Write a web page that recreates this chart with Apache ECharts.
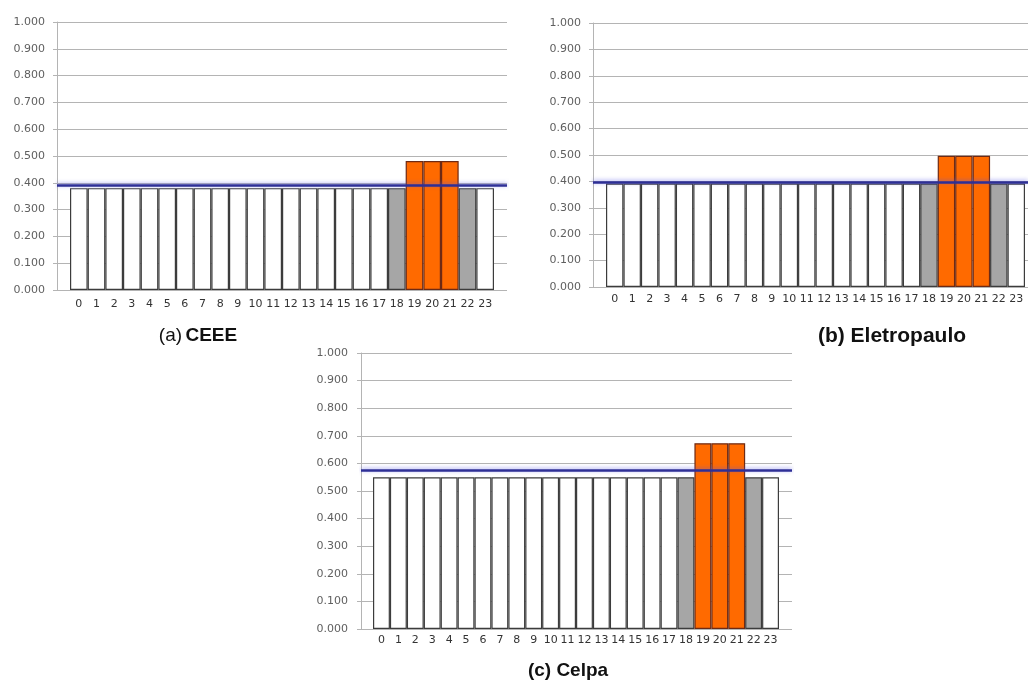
<!DOCTYPE html>
<html>
<head>
<meta charset="utf-8">
<script src="https://cdn.jsdelivr.net/npm/echarts@6/dist/echarts.min.js"></script>
<style>
html,body{margin:0;padding:0;background:#fff;}
#c{width:1028px;height:684px;}
</style>
</head>
<body>
<div id="c"></div>
<script>
// ---- data ----
var hours = ['0','1','2','3','4','5','6','7','8','9','10','11','12','13','14','15','16','17','18','19','20','21','22','23'];
var yTicks = [0, 0.1, 0.2, 0.3, 0.4, 0.5, 0.6, 0.7, 0.8, 0.9, 1.0];
// bar type per hour: 0 = off-peak (white), 1 = intermediate (grey), 2 = peak (orange)
var hourType = [0,0,0,0,0,0,0,0,0,0,0,0,0,0,0,0,0,0,1,2,2,2,1,0];
var ceeeValues = [0.380,0.380,0.380,0.380,0.380,0.380,0.380,0.380,0.380,0.380,0.380,0.380,0.380,0.380,0.380,0.380,0.380,0.380,0.380,0.481,0.481,0.481,0.380,0.380];
var ceeeFlat = 0.390;
var eletropauloValues = [0.392,0.392,0.392,0.392,0.392,0.392,0.392,0.392,0.392,0.392,0.392,0.392,0.392,0.392,0.392,0.392,0.392,0.392,0.392,0.497,0.497,0.497,0.392,0.392];
var eletropauloFlat = 0.396;
var celpaValues = [0.550,0.550,0.550,0.550,0.550,0.550,0.550,0.550,0.550,0.550,0.550,0.550,0.550,0.550,0.550,0.550,0.550,0.550,0.550,0.673,0.673,0.673,0.550,0.550];
var celpaFlat = 0.574;

// ---- styles ----
var fills = ['#ffffff', '#a6a6a6', '#ff6a00'];
var borders = ['#3c3c3c', '#3c3c3c', '#6e2a14'];
var gridColor = '#b4b4b4';

var panels = [
  {values: ceeeValues, flat: ceeeFlat, bg: {left: 57, top: 22, width: 450, height: 268}, bars: {left: 70, width: 424}, yMargin: 12, xMargin: 9},
  {values: eletropauloValues, flat: eletropauloFlat, bg: {left: 593, top: 23, width: 435, height: 264}, bars: {left: 606, width: 419}, yMargin: 12, xMargin: 7},
  {values: celpaValues, flat: celpaFlat, bg: {left: 361, top: 353, width: 431, height: 276}, bars: {left: 373, width: 406}, yMargin: 13, xMargin: 6}
];

var grid = [], xAxis = [], yAxis = [], series = [];
panels.forEach(function (p, i) {
  var g0 = i * 2, g1 = i * 2 + 1;
  grid.push({left: p.bg.left, top: p.bg.top, width: p.bg.width, height: p.bg.height, containLabel: false});
  grid.push({left: p.bars.left, top: p.bg.top, width: p.bars.width, height: p.bg.height, containLabel: false});
  // background grid axes
  xAxis.push({type: 'value', gridIndex: g0, min: 0, max: 1, show: false});
  yAxis.push({
    type: 'value', gridIndex: g0, min: yTicks[0], max: yTicks[yTicks.length - 1], interval: yTicks[1] - yTicks[0],
    axisLine: {show: true, lineStyle: {color: gridColor, width: 1}},
    axisTick: {show: true, length: 4, lineStyle: {color: gridColor}},
    splitLine: {show: true, lineStyle: {color: gridColor, width: 1}},
    axisLabel: {margin: p.yMargin, color: '#5f5f5f', fontFamily: 'DejaVu Sans', fontSize: 11,
      formatter: function (v) { return v.toFixed(3); }}
  });
  // bar axes
  xAxis.push({
    type: 'category', gridIndex: g1, data: hours,
    axisLine: {show: false}, axisTick: {show: false}, splitLine: {show: false},
    axisLabel: {margin: p.xMargin, color: '#333333', fontFamily: 'DejaVu Sans', fontSize: 11, interval: 0}
  });
  yAxis.push({type: 'value', gridIndex: g1, min: 0, max: 1, show: false, splitLine: {show: false}});

  series.push({
    type: 'bar', xAxisIndex: g1, yAxisIndex: g1, barCategoryGap: '0%', z: 3,
    data: p.values.map(function (v, k) {
      return {value: v, itemStyle: {color: fills[hourType[k]], borderColor: borders[hourType[k]], borderWidth: 1.2}};
    }),
    animation: false, silent: true
  });
  series.push({
    type: 'line', xAxisIndex: g0, yAxisIndex: g0, z: 5, symbol: 'none',
    data: [[0, p.flat], [1, p.flat]],
    lineStyle: {color: '#2e2f96', width: 2.5, shadowColor: 'rgba(90,90,230,0.55)', shadowBlur: 4, shadowOffsetY: -1},
    animation: false, silent: true
  });
});

var chart = echarts.init(document.getElementById('c'), null, {renderer: 'canvas'});
chart.setOption({
  backgroundColor: '#ffffff',
  animation: false,
  grid: grid, xAxis: xAxis, yAxis: yAxis, series: series,
  graphic: [
    {type: 'text', x: 198, y: 336, z: 100, style: {
      text: '{n|(a)} {b|CEEE}', textAlign: 'center', textVerticalAlign: 'middle',
      rich: {n: {fontFamily: 'Liberation Sans', fontSize: 19, fill: '#111'}, b: {fontFamily: 'Liberation Sans', fontSize: 19, fontWeight: 'bold', fill: '#111'}}
    }},
    {type: 'text', x: 870, y: 336, z: 100, style: {
      text: '(b) Eletropaulo', textAlign: 'center', textVerticalAlign: 'middle',
      fontFamily: 'Liberation Sans', fontSize: 21, fontWeight: 'bold', fill: '#111',
      backgroundColor: '#ffffff', padding: [4, 6, 9, 50]
    }},
    {type: 'text', x: 568, y: 671, z: 100, style: {
      text: '(c) Celpa', textAlign: 'center', textVerticalAlign: 'middle',
      fontFamily: 'Liberation Sans', fontSize: 19, fontWeight: 'bold', fill: '#111'
    }}
  ]
});
</script>
</body>
</html>
